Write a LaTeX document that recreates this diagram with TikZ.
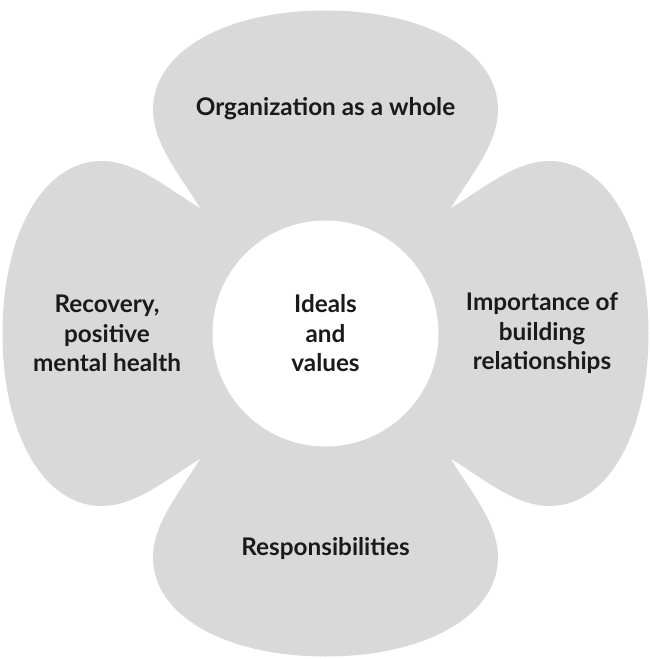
\documentclass[tikz,border=0pt]{standalone}
\usepackage{fontspec}
\setmainfont{Lato}
\usetikzlibrary{positioning}
\definecolor{petalGray}{HTML}{D9D9D9}
\definecolor{textDark}{HTML}{1A1A1A}

\begin{document}
\begin{tikzpicture}[x=1pt, y=1pt,
    petal/.style={fill=petalGray, draw=none},
    hub/.style={circle, fill=white, minimum size=226pt, inner sep=0pt},
    txt/.style={font=\fontsize{24.3}{29.5}\selectfont\bfseries, text=textDark, align=center}]
    \useasboundingbox (-325.5,-325.5) rectangle (324.5,333.5);
    % flower
    \fill[petal] (-125,125)
      .. controls (-146,159) and (-172.5,190) .. (-172.5,224)
      .. controls (-172.5,282) and (-100,323) .. (0,323)
      .. controls (100,323) and (172.5,282) .. (172.5,224)
      .. controls (172.5,190) and (146,159) .. (125,125)
      .. controls (159,146) and (190,172.5) .. (224,172.5)
      .. controls (282,172.5) and (323,100) .. (323,0)
      .. controls (323,-100) and (282,-172.5) .. (224,-172.5)
      .. controls (190,-172.5) and (159,-146) .. (125,-125)
      .. controls (146,-159) and (172.5,-190) .. (172.5,-224)
      .. controls (172.5,-282) and (100,-323) .. (0,-323)
      .. controls (-100,-323) and (-172.5,-282) .. (-172.5,-224)
      .. controls (-172.5,-190) and (-146,-159) .. (-125,-125)
      .. controls (-159,-146) and (-190,-172.5) .. (-224,-172.5)
      .. controls (-282,-172.5) and (-323,-100) .. (-323,0)
      .. controls (-323,100) and (-282,172.5) .. (-224,172.5)
      .. controls (-190,172.5) and (-159,146) .. (-125,125) -- cycle;
    \node[hub] (core) at (0,0) {};
    % labels
    \node[txt] (ideals) at (core) {Ideals\\and\\values};
    \node[txt] (org) at (0,224.5) {Organization as a whole};
    \node[txt] (resp) at (0,-214.5) {Responsibilities};
    \node[txt] (recov) at (-218.5,0) {Recovery,\\positive\\mental health};
    \node[txt] (build) at (216.5,0) {Importance of\\building\\relationships};
\end{tikzpicture}
\end{document}
